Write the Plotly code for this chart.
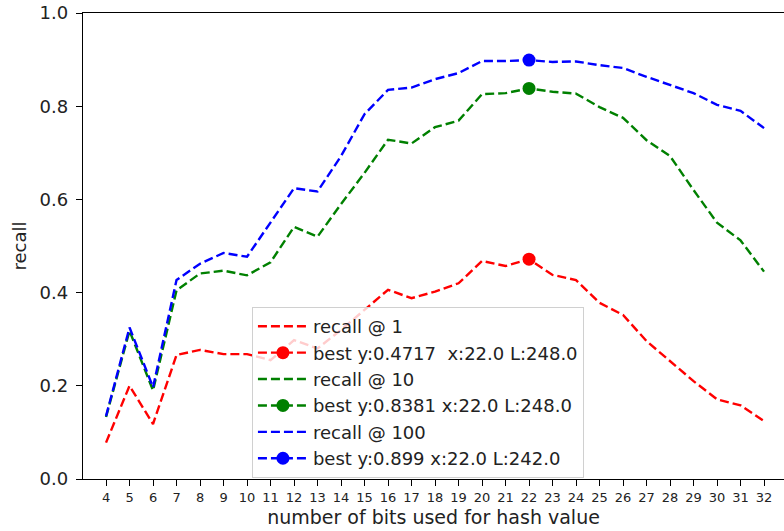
import plotly.graph_objects as go

bits = list(range(4, 33))
recall_1 = [0.078, 0.200, 0.118, 0.266, 0.277, 0.268, 0.268, 0.255, 0.298, 0.280, 0.320,
            0.362, 0.406, 0.388, 0.402, 0.420, 0.468, 0.457, 0.4717, 0.438, 0.427, 0.378,
            0.352, 0.296, 0.252, 0.210, 0.171, 0.158, 0.124]
recall_10 = [0.133, 0.318, 0.190, 0.405, 0.441, 0.447, 0.437, 0.465, 0.541, 0.520, 0.590,
             0.657, 0.728, 0.720, 0.755, 0.769, 0.826, 0.828, 0.8381, 0.831, 0.827, 0.798,
             0.775, 0.727, 0.693, 0.620, 0.550, 0.512, 0.445]
recall_100 = [0.135, 0.325, 0.197, 0.427, 0.462, 0.485, 0.477, 0.550, 0.624, 0.617, 0.693,
              0.783, 0.835, 0.840, 0.858, 0.871, 0.897, 0.897, 0.899, 0.895, 0.896, 0.888,
              0.882, 0.863, 0.846, 0.828, 0.803, 0.790, 0.753]

series = [
    ("recall @ 1", recall_1, "#ff0000", "best y:0.4717\u00a0 x:22.0 L:248.0", 22, 0.4717),
    ("recall @ 10", recall_10, "#008000", "best y:0.8381 x:22.0 L:248.0", 22, 0.8381),
    ("recall @ 100", recall_100, "#0000ff", "best y:0.899 x:22.0 L:242.0", 22, 0.899),
]

fig = go.Figure()
for name, vals, color, best_name, bx, by in series:
    fig.add_trace(go.Scatter(x=bits, y=vals, mode="lines", name=name,
                             line=dict(color=color, width=2.4, dash="9px,4px")))
    fig.add_trace(go.Scatter(x=[bx], y=[by], mode="lines+markers", name=best_name,
                             line=dict(color=color, width=2.4, dash="9px,4px"),
                             marker=dict(color=color, size=13)))

txt = "#222222"
fig.update_layout(
    width=784, height=531,
    margin=dict(l=83, r=0, t=13, b=52),
    paper_bgcolor="white", plot_bgcolor="white",
    font=dict(family="DejaVu Sans", color=txt),
    showlegend=True,
    legend=dict(x=0.241, y=0.369, xanchor="left", yanchor="top",
                bgcolor="rgba(255,255,255,0.8)", bordercolor="#d0d0d0", borderwidth=1,
                font=dict(size=18, family="DejaVu Sans", color=txt),
                tracegroupgap=0, itemwidth=50),
    xaxis=dict(range=[3.02, 32.85], tickmode="array", tickvals=bits,
               ticktext=[str(b) for b in bits],
               showline=True, linecolor="black", linewidth=1.3, mirror=True,
               ticks="outside", ticklen=6, tickcolor="black",
               showgrid=False, zeroline=False,
               tickfont=dict(size=13, family="DejaVu Sans", color=txt),
               title=dict(text="number of bits used for hash value",
                          font=dict(size=19, family="DejaVu Sans", color=txt),
                          standoff=6)),
    yaxis=dict(range=[0, 1], tickmode="array", tickvals=[0, 0.2, 0.4, 0.6, 0.8, 1.0],
               ticktext=["0.0", "0.2", "0.4", "0.6", "0.8", "1.0"],
               showline=True, linecolor="black", linewidth=1.3,
               ticks="outside", ticklen=6, tickcolor="black",
               showgrid=False, zeroline=False, ticklabelstandoff=4,
               tickfont=dict(size=18, family="DejaVu Sans", color=txt),
               title=dict(text="recall",
                          font=dict(size=18, family="DejaVu Sans", color=txt),
                          standoff=8)),
)

fig.write_html("out.html")
